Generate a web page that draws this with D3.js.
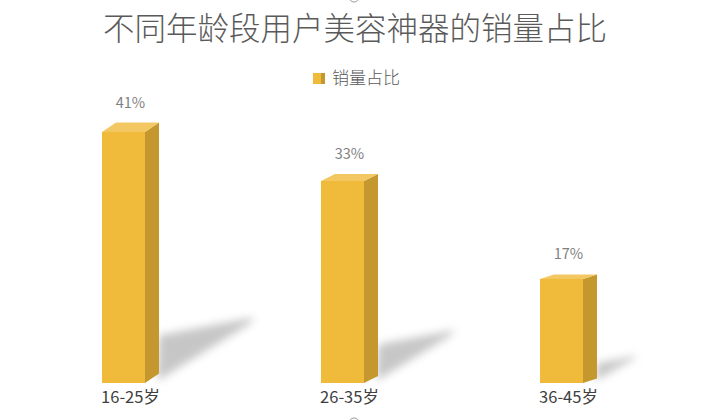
<!DOCTYPE html>
<html><head><meta charset="utf-8">
<script src="https://cdn.jsdelivr.net/npm/d3@7"></script>
<style>html,body{margin:0;padding:0;background:#fff;}svg{display:block;}</style>
</head><body>
<svg id="c" width="711" height="420"></svg>
<script>
const title = "不同年龄段用户美容神器的销量占比";
const seriesName = "销量占比";
const categories = ["16-25岁", "26-35岁", "36-45岁"];
const values = [41, 33, 17];
const valueLabels = ["41%", "33%", "17%"];

const W = 711, H = 420;
const font = "'Noto Sans CJK SC','Noto Sans',sans-serif";
const svg = d3.select("#c");
const base = 383;
const x = d3.scalePoint().domain(categories).range([123.5, 561.5]);
const y = d3.scaleLinear().domain([0, 41]).range([base, 132]);
const bw = 43, dx = 14;
const depthY = px => (977 - px) * 0.0114;

const defs = svg.append("defs");
defs.append("filter").attr("id", "blur").attr("x", "-50%").attr("y", "-50%").attr("width", "200%").attr("height", "200%")
  .append("feGaussianBlur").attr("stdDeviation", 4.5);

// title
svg.append("text").attr("x", 355).attr("y", 40).attr("text-anchor", "middle")
  .attr("font-family", font).attr("font-size", 31.5).attr("font-weight", 300).attr("fill", "#5a5a5a").text(title);

// legend
const lg = svg.append("g");
lg.append("rect").attr("x", 313).attr("y", 73).attr("width", 8).attr("height", 11).attr("fill", "#F0BA3A");
lg.append("rect").attr("x", 321).attr("y", 73).attr("width", 4).attr("height", 11).attr("fill", "#C4982E");
lg.append("text").attr("x", 332).attr("y", 84).attr("font-family", font).attr("font-size", 17).attr("font-weight", 300)
  .attr("fill", "#595959").text(seriesName);

const data = categories.map((c, i) => ({c, v: values[i], label: valueLabels[i]}));

// shadows
svg.append("g").selectAll("path").data(data).join("path")
  .attr("filter", "url(#blur)").attr("fill", "#bdbdbd").attr("opacity", 0.85)
  .attr("d", d => {
    const x1 = x(d.c) + bw / 2 + dx;
    const h = base - y(d.v);
    return d3.line()([[x1 - 2, base - 2], [x1, base - 0.19 * h], [x1 + 0.38 * h, base - 0.262 * h], [x1 + 0.36 * h, base - 0.235 * h]]) + "Z";
  });

const bars = svg.append("g").selectAll("g").data(data).join("g");
bars.each(function(d) {
  const g = d3.select(this);
  const x0 = x(d.c) - bw / 2, x1 = x0 + bw, yt = y(d.v);
  const dy = depthY(x1);
  g.append("path").attr("fill", "#C4982E")
    .attr("d", d3.line()([[x1, yt], [x1 + dx, yt - dy], [x1 + dx, base - dy], [x1, base]]) + "Z");
  g.append("path").attr("fill", "#F3C862")
    .attr("d", d3.line()([[x0, yt], [x1, yt], [x1 + dx, yt - dy], [x0 + dx, yt - dy]]) + "Z");
  g.append("rect").attr("x", x0).attr("y", yt).attr("width", bw).attr("height", base - yt).attr("fill", "#F0BA3A");
  g.append("text").attr("x", x(d.c) + dx / 2).attr("y", yt - dy - 15).attr("text-anchor", "middle")
    .attr("font-family", font).attr("font-size", 14.5).attr("fill", "#7F7F7F").text(d.label);
  g.append("text").attr("x", x(d.c) + dx / 2).attr("y", 403).attr("text-anchor", "middle")
    .attr("font-family", font).attr("font-size", 16.5).attr("fill", "#404040").text(d.c);
});

// frame handles (partial, as in reference)
svg.append("circle").attr("cx", 354).attr("cy", -3).attr("r", 5).attr("fill", "#fff").attr("stroke", "#9a9a9a");
svg.append("circle").attr("cx", 354).attr("cy", 423).attr("r", 5).attr("fill", "#fff").attr("stroke", "#9a9a9a");
</script>
</body></html>
